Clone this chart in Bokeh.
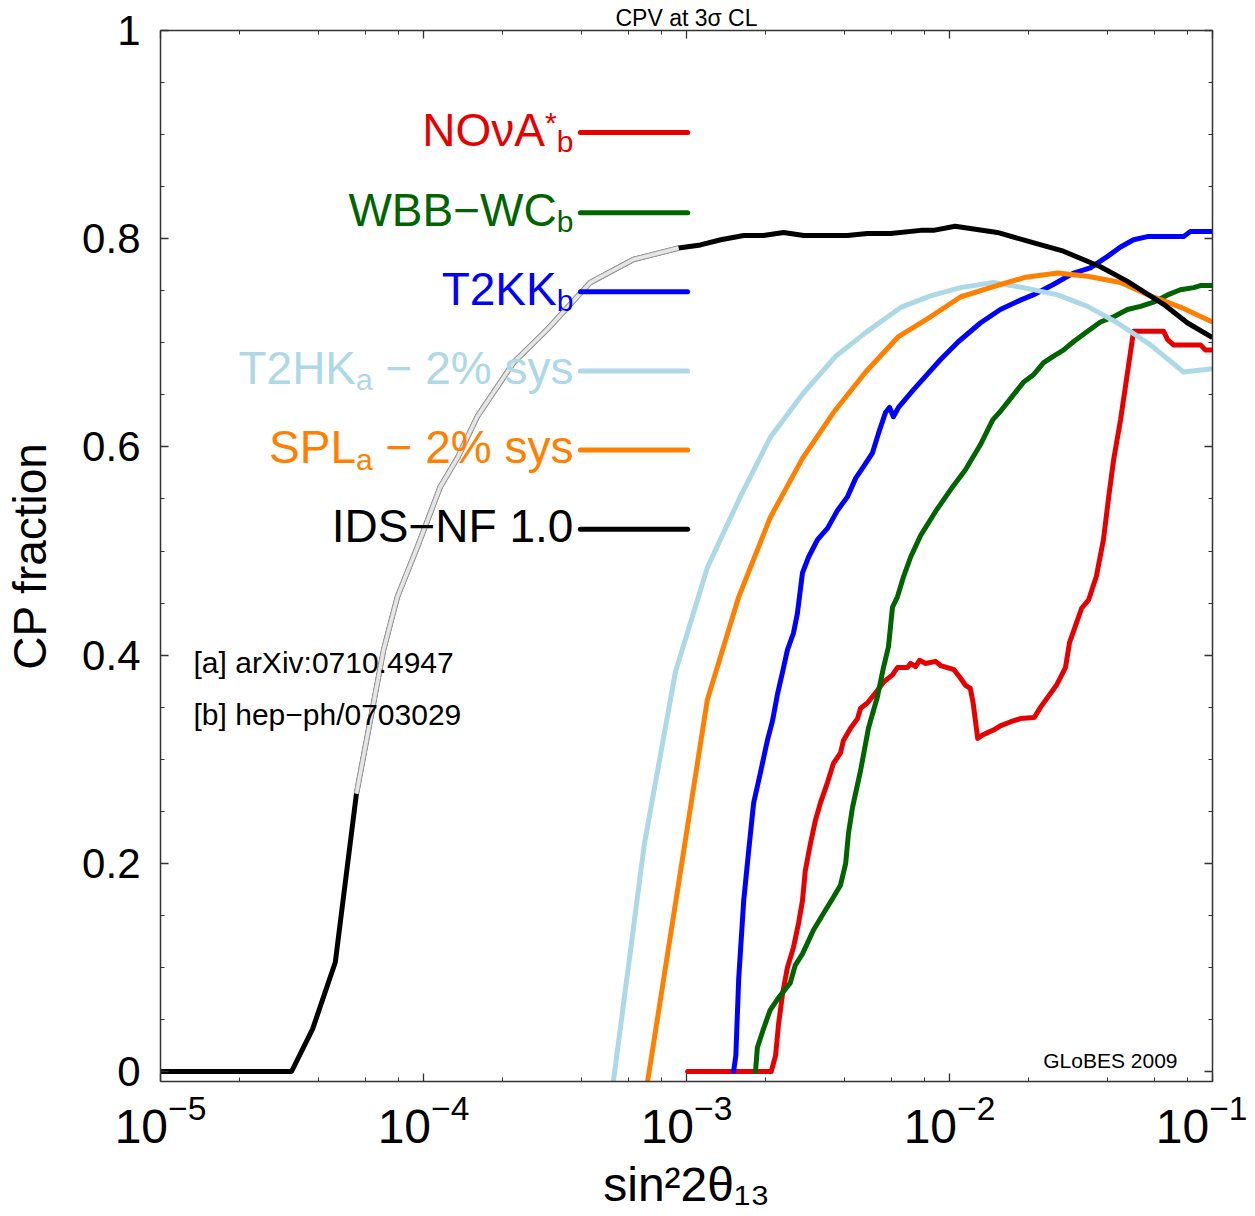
from bokeh.plotting import figure
from bokeh.models import (Range1d, LogAxis, LinearAxis, FixedTicker, LogTicker,
                          ColumnDataSource, Label, CustomJSTickFormatter)
from bokeh.core.properties import value
from bokeh.embed import file_html
from bokeh.resources import INLINE

# ---------------- data ----------------
ids_x = [1.0e-5, 3.15e-5, 3.79e-5, 4.62e-5, 5.56e-5, 7.05e-5, 7.96e-5, 9.48e-5, 1.16e-4, 1.35e-4,
         1.60e-4, 2.20e-4, 2.96e-4, 4.31e-4, 6.28e-4, 9.33e-4, 1.13e-3, 1.35e-3, 1.65e-3, 1.96e-3,
         2.34e-3, 2.79e-3, 4.09e-3, 4.87e-3, 5.97e-3, 7.77e-3, 8.69e-3, 1.05e-2, 1.52e-2, 2.03e-2,
         2.71e-2, 3.75e-2, 4.75e-2, 6.52e-2, 8.04e-2, 1.0e-1]
ids_y = [0.0, 0.0, 0.041, 0.105, 0.267, 0.405, 0.456, 0.504, 0.562, 0.590,
         0.629, 0.681, 0.713, 0.758, 0.780, 0.791, 0.794, 0.799, 0.803, 0.803,
         0.806, 0.803, 0.803, 0.805, 0.805, 0.808, 0.808, 0.812, 0.806, 0.797,
         0.788, 0.773, 0.759, 0.737, 0.719, 0.705]
ids_gray_start, ids_gray_end = 4, 16   # portion drawn light grey

t2hk_x = [5.27e-4, 6.92e-4, 9.08e-4, 1.20e-3, 1.58e-3, 2.08e-3, 2.79e-3, 3.69e-3, 4.87e-3, 6.52e-3,
          8.47e-3, 1.10e-2, 1.47e-2, 1.91e-2, 2.58e-2, 3.35e-2, 4.36e-2, 5.81e-2, 7.76e-2, 1.0e-1]
t2hk_y = [-0.01, 0.219, 0.384, 0.484, 0.549, 0.609, 0.652, 0.687, 0.711, 0.734,
          0.745, 0.753, 0.758, 0.753, 0.746, 0.735, 0.719, 0.698, 0.672, 0.675]

spl_x = [7.11e-4, 1.20e-3, 1.58e-3, 2.08e-3, 2.76e-3, 3.62e-3, 4.80e-3, 6.40e-3, 8.47e-3, 1.10e-2,
         1.47e-2, 1.95e-2, 2.58e-2, 3.35e-2, 4.47e-2, 5.81e-2, 7.76e-2, 1.0e-1]
spl_y = [-0.01, 0.357, 0.456, 0.532, 0.589, 0.633, 0.672, 0.706, 0.725, 0.744,
         0.754, 0.763, 0.767, 0.764, 0.758, 0.745, 0.733, 0.720]

t2kk_x = [1.51e-3, 1.54e-3, 1.58e-3, 1.65e-3, 1.72e-3, 1.80e-3, 1.91e-3, 2.03e-3, 2.12e-3, 2.22e-3,
          2.32e-3, 2.42e-3, 2.55e-3, 2.64e-3, 2.76e-3, 2.91e-3, 3.15e-3, 3.44e-3, 3.75e-3, 4.09e-3,
          4.40e-3, 4.71e-3, 5.09e-3, 5.37e-3, 5.71e-3, 5.92e-3, 6.12e-3, 6.40e-3, 7.30e-3, 9.25e-3,
          1.08e-2, 1.31e-2, 1.56e-2, 1.86e-2, 2.08e-2, 2.48e-2, 2.96e-2, 3.43e-2, 3.99e-2, 4.47e-2,
          5.01e-2, 5.66e-2, 7.76e-2, 8.24e-2, 1.0e-1]
t2kk_y = [0.0, 0.015, 0.090, 0.164, 0.210, 0.258, 0.287, 0.318, 0.336, 0.363,
          0.384, 0.405, 0.421, 0.440, 0.479, 0.494, 0.511, 0.522, 0.539, 0.552,
          0.570, 0.581, 0.594, 0.613, 0.633, 0.638, 0.629, 0.638, 0.655, 0.684,
          0.701, 0.719, 0.732, 0.741, 0.746, 0.756, 0.767, 0.772, 0.783, 0.792,
          0.799, 0.802, 0.802, 0.807, 0.807]

wbb_x = [1.83e-3, 1.86e-3, 1.95e-3, 2.08e-3, 2.24e-3, 2.48e-3, 2.59e-3, 2.76e-3, 3.04e-3, 3.32e-3,
         3.59e-3, 3.85e-3, 4.03e-3, 4.13e-3, 4.28e-3, 4.59e-3, 4.92e-3, 5.32e-3, 5.61e-3, 5.86e-3,
         6.07e-3, 6.34e-3, 6.68e-3, 7.11e-3, 7.77e-3, 8.85e-3, 1.01e-2, 1.15e-2, 1.31e-2, 1.46e-2,
         1.56e-2, 1.75e-2, 1.91e-2, 2.08e-2, 2.28e-2, 2.48e-2, 2.71e-2, 2.96e-2, 3.35e-2, 3.75e-2,
         4.21e-2, 4.75e-2, 5.32e-2, 5.97e-2, 6.75e-2, 7.55e-2, 8.48e-2, 9.00e-2, 1.0e-1]
wbb_y = [0.0, 0.023, 0.039, 0.059, 0.071, 0.085, 0.102, 0.113, 0.136, 0.152,
         0.166, 0.179, 0.200, 0.229, 0.254, 0.289, 0.330, 0.360, 0.388, 0.408,
         0.446, 0.456, 0.475, 0.494, 0.515, 0.538, 0.559, 0.578, 0.602, 0.626,
         0.634, 0.650, 0.662, 0.669, 0.681, 0.687, 0.693, 0.701, 0.711, 0.720,
         0.725, 0.732, 0.735, 0.739, 0.746, 0.751, 0.753, 0.755, 0.755]

nova_x = [1.01e-3, 2.10e-3, 2.18e-3, 2.24e-3, 2.32e-3, 2.42e-3, 2.55e-3, 2.67e-3, 2.76e-3, 2.83e-3,
          2.96e-3, 3.09e-3, 3.23e-3, 3.44e-3, 3.62e-3, 3.85e-3, 3.95e-3, 4.21e-3, 4.47e-3, 4.59e-3,
          4.87e-3, 5.32e-3, 5.61e-3, 6.07e-3, 6.34e-3, 6.92e-3, 7.11e-3, 7.43e-3, 7.69e-3, 8.11e-3,
          8.85e-3, 9.25e-3, 9.81e-3, 1.04e-2, 1.10e-2, 1.15e-2, 1.20e-2, 1.23e-2, 1.28e-2, 1.33e-2,
          1.41e-2, 1.47e-2, 1.56e-2, 1.71e-2, 1.86e-2, 2.10e-2, 2.22e-2, 2.55e-2, 2.76e-2, 2.86e-2,
          3.18e-2, 3.38e-2, 3.62e-2, 3.85e-2, 4.03e-2, 4.21e-2, 4.47e-2, 5.01e-2, 6.52e-2, 6.75e-2,
          7.11e-2, 9.00e-2, 9.40e-2, 1.0e-1]
nova_y = [0.0, 0.0, 0.015, 0.046, 0.075, 0.100, 0.119, 0.143, 0.164, 0.193,
          0.219, 0.241, 0.258, 0.278, 0.296, 0.306, 0.318, 0.330, 0.339, 0.349,
          0.354, 0.366, 0.374, 0.381, 0.388, 0.388, 0.392, 0.389, 0.395, 0.392,
          0.394, 0.390, 0.388, 0.386, 0.378, 0.371, 0.368, 0.354, 0.320, 0.323,
          0.326, 0.328, 0.332, 0.336, 0.339, 0.340, 0.350, 0.371, 0.388, 0.412,
          0.445, 0.453, 0.476, 0.511, 0.552, 0.588, 0.626, 0.711, 0.711, 0.703,
          0.698, 0.698, 0.693, 0.693]

# legend (drawn inside the plot, label to the left of a short line)
leg_names = ["NOνA", "WBB−WC", "T2KK", "T2HK", "SPL", "IDS−NF 1.0"]
leg_sup = ["*", "", "", "", "", ""]
leg_sub = ["b", "b", "b", "a", "a", ""]
leg_tail = ["", "", "", "− 2% sys", "− 2% sys", ""]
leg_y = [0.902, 0.825, 0.749, 0.673, 0.597, 0.521]
leg_x0, leg_x1 = 3.95e-4, 1.01e-3

notes = ["[a] arXiv:0710.4947", "[b] hep−ph/0703029"]
notes_x = [1.335e-5, 1.335e-5]
notes_y = [0.393, 0.343]

title = "CPV at 3σ CL"
credit = "GLoBES 2009"

y_ticks = [0, 0.2, 0.4, 0.6, 0.8, 1]
y_tick_labels = ["0", "0.2", "0.4", "0.6", "0.8", "1"]
y_minor = [0.05, 0.1, 0.15, 0.25, 0.3, 0.35, 0.45, 0.5, 0.55, 0.65, 0.7, 0.75, 0.85, 0.9, 0.95]

# ---------------- styling ----------------
FONT = "Liberation Sans"
RED, GREEN, BLUE, LBLUE, ORANGE, BLACK = "#e60000", "#006400", "#0000ff", "#add8e6", "#ff8000", "#000000"
leg_colors = [RED, GREEN, BLUE, LBLUE, ORANGE, BLACK]
LW = 5
AX = "#333333"

p = figure(frame_width=1052, frame_height=1051, x_axis_type="log",
           x_range=Range1d(1e-5, 1e-1), y_range=Range1d(-0.0096, 1.0),
           output_backend="svg", toolbar_location=None,
           min_border_left=160, min_border_right=35, min_border_top=30, min_border_bottom=130)
p.grid.visible = False
p.outline_line_color = None
p.background_fill_color = "white"
p.border_fill_color = "white"
p.title.text = title
p.title.align = "center"
p.title.text_font = FONT
p.title.text_font_size = "23px"
p.title.text_font_style = "normal"
p.title.text_color = "black"
p.title.standoff = 0
p.title.offset = 0


def style_axis(ax):
    ax.axis_line_color = AX
    ax.axis_line_width = 1.5
    ax.major_tick_in = 8
    ax.major_tick_out = 0
    ax.minor_tick_in = 4
    ax.minor_tick_out = 0
    ax.major_tick_line_color = AX
    ax.minor_tick_line_color = AX
    ax.major_tick_line_width = 1.3
    ax.minor_tick_line_width = 1.0
    ax.major_label_text_font = FONT
    ax.axis_label_text_font = FONT
    ax.axis_label_text_font_style = "normal"
    ax.major_label_text_color = "black"
    ax.axis_label_text_color = "black"


xa = p.xaxis[0]
ya = p.yaxis[0]
style_axis(xa)
style_axis(ya)
xa.ticker = LogTicker()
xa.major_label_text_font_size = "48px"
xa.major_label_standoff = 12
xa.axis_label = "sin²2θ₁₃"
xa.axis_label_text_font_size = "48px"
xa.axis_label_standoff = 12

ya.ticker = FixedTicker(ticks=y_ticks, minor_ticks=y_minor)
ya.major_label_overrides = {t: l for t, l in zip(y_ticks, y_tick_labels)}
ya.major_label_text_font_size = "42px"
ya.major_label_standoff = 20
ya.axis_label = "CP fraction"
ya.axis_label_text_font_size = "46px"
ya.axis_label_standoff = 23

blank = CustomJSTickFormatter(code="return ''")
top = LogAxis(ticker=LogTicker(), formatter=blank)
style_axis(top)
top.major_label_standoff = 0
top.major_label_text_font_size = "1px"
p.add_layout(top, "above")
right = LinearAxis(ticker=FixedTicker(ticks=y_ticks, minor_ticks=y_minor), formatter=blank)
style_axis(right)
right.major_label_standoff = 0
right.major_label_text_font_size = "1px"
p.add_layout(right, "right")

# ---------------- curves ----------------
line_kw = dict(line_width=LW, line_join="round", line_cap="round")
p.line(nova_x, nova_y, line_color=RED, **line_kw)
p.line(wbb_x, wbb_y, line_color=GREEN, **line_kw)
p.line(t2kk_x, t2kk_y, line_color=BLUE, **line_kw)
p.line(t2hk_x, t2hk_y, line_color=LBLUE, **line_kw)
p.line(spl_x, spl_y, line_color=ORANGE, **line_kw)
p.line(ids_x, ids_y, line_color=BLACK, line_width=5, line_join="round")
gx = ids_x[ids_gray_start:ids_gray_end]
gy = ids_y[ids_gray_start:ids_gray_end]
p.line(gx, gy, line_color="#9a9a9a", line_width=5.6, line_join="round")
p.line(gx, gy, line_color="#e6e6e6", line_width=3.6, line_join="round")

# ---------------- legend ----------------
p.segment(x0=[leg_x0] * len(leg_y), y0=leg_y, x1=[leg_x1] * len(leg_y), y1=leg_y,
          line_color=leg_colors, line_width=LW, line_cap="round")

# Arial / Liberation Sans advance widths (1/1000 em) to lay out sub/superscripts
ADV = {'N': 722, 'O': 778, 'ν': 500, 'A': 667, '*': 389, 'b': 556, 'W': 944, 'B': 667, '−': 584,
       'C': 722, 'T': 611, '2': 556, 'K': 667, 'H': 722, 'a': 556, ' ': 278, '%': 889, 's': 500,
       'y': 500, 'S': 667, 'P': 667, 'L': 556, 'I': 278, 'D': 722, 'F': 611, '1': 556, '.': 278,
       '0': 556}
BIG, SMALL = 46, 30
GAP = 7
MAIN_DY, SUB_DY, SUP_DY = -3, 9, -10


def tw(s, size):
    return sum(ADV.get(c, 556) for c in s) * size / 1000.0


tx, ty, tt, tc, tsz, txo, tyo = [], [], [], [], [], [], []
for name, sup, sub, tail, yy, col in zip(leg_names, leg_sup, leg_sub, leg_tail, leg_y, leg_colors):
    cur = -GAP
    pieces = [(tail, BIG, MAIN_DY, tw(" ", BIG)), (sub, SMALL, SUB_DY, 0),
              (sup, SMALL, SUP_DY, 0), (name, BIG, MAIN_DY, 0)]
    for txt, sz, dy, extra in pieces:
        if not txt:
            continue
        tx.append(leg_x0)
        ty.append(yy)
        tt.append(txt)
        tc.append(col)
        tsz.append(f"{sz}px")
        txo.append(cur)
        tyo.append(dy)
        cur -= tw(txt, sz) + extra

src = ColumnDataSource(dict(x=tx, y=ty, text=tt, color=tc, size=tsz, xo=txo, yo=tyo))
p.text(x="x", y="y", text="text", source=src, text_color="color", text_font_size="size",
       x_offset="xo", y_offset="yo", text_align="right", text_baseline="alphabetic",
       text_font=value(FONT))

nsrc = ColumnDataSource(dict(x=notes_x, y=notes_y, text=notes))
p.text(x="x", y="y", text="text", source=nsrc, text_color="black", text_font_size=value("30px"),
       text_align="left", text_baseline="alphabetic", text_font=value(FONT))

p.add_layout(Label(x=7.36e-2, y=0.0101, text=credit, text_align="right",
                   text_baseline="alphabetic", text_font=FONT, text_font_size="21px",
                   text_color="black"))

open("out.html", "w").write(file_html(p, INLINE))
